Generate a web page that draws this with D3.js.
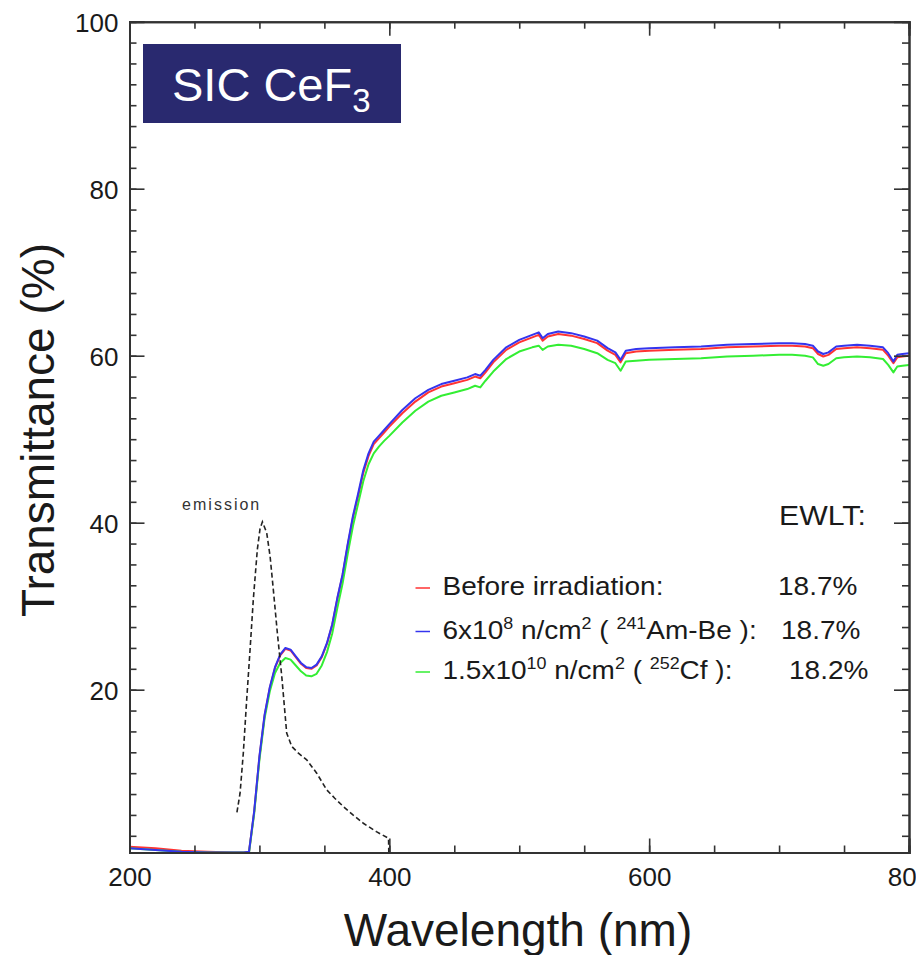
<!DOCTYPE html>
<html>
<head>
<meta charset="utf-8">
<script src="https://cdn.jsdelivr.net/npm/d3@7"></script>
<style>
    body { margin: 0; background: #fff; }
    text { font-family: "Liberation Sans", Arial, sans-serif; fill: #1a1a1a; }
    .axis path { stroke: #333; stroke-width: 2; }
    .axis line { stroke: #333; stroke-width: 1.6; }
    .curve { fill: none; stroke-width: 2; stroke-linejoin: round; }
</style>
</head>
<body>
<div id="chart"></div>
<script>

// wavelength grid (nm) shared by the three transmittance curves
const wavelengths = [200, 220, 240, 260, 280, 288, 292, 296, 300, 304, 308, 312, 316, 320, 324, 328, 332, 336, 340, 344,
    348, 352, 356, 360, 364, 368, 372, 376, 380, 384, 388, 392, 396, 400, 410, 420, 430, 440, 450, 460,
    466, 470, 474, 480, 490, 500, 510, 515, 518, 522, 530, 540, 550, 560, 568, 574, 578, 582, 590, 600,
    620, 640, 660, 680, 700, 710, 720, 726, 730, 734, 738, 744, 750, 760, 770, 780, 784, 788, 791, 795, 800];

// transmittance (%)
const beforeIrr = [1.2, 1.0, 0.7, 0.6, 0.5, 0.5, 0.6, 5.4, 11.9, 16.9, 20.2, 22.6, 24.1, 24.9, 24.7, 23.9, 23.1, 22.6, 22.5, 22.9,
    23.9, 25.5, 27.7, 30.9, 33.7, 37.3, 40.6, 43.2, 46.0, 48.0, 49.4, 50.1, 50.8, 51.5, 53.1, 54.5, 55.6, 56.3, 56.7, 57.1,
    57.5, 57.3, 58.0, 59.2, 60.7, 61.6, 62.2, 62.5, 61.8, 62.3, 62.6, 62.4, 62.0, 61.5, 60.6, 60.1, 59.2, 60.3, 60.5, 60.6,
    60.7, 60.8, 61.0, 61.1, 61.2, 61.2, 61.1, 60.9, 60.2, 59.9, 60.1, 60.8, 60.9, 61.0, 60.9, 60.7, 60.0, 59.1, 59.8, 59.9, 60.0];

const amBe = [1.0, 0.8, 0.6, 0.5, 0.5, 0.5, 0.6, 5.5, 12.0, 17.0, 20.3, 22.7, 24.2, 25.0, 24.8, 24.0, 23.2, 22.7, 22.6, 23.0,
    24.0, 25.6, 27.8, 31.0, 33.8, 37.5, 40.8, 43.5, 46.3, 48.3, 49.7, 50.4, 51.1, 51.8, 53.5, 54.9, 55.9, 56.6, 57.0, 57.4,
    57.8, 57.6, 58.3, 59.5, 61.0, 61.9, 62.5, 62.8, 62.1, 62.6, 62.9, 62.7, 62.3, 61.8, 60.9, 60.4, 59.5, 60.6, 60.8, 60.9,
    61.0, 61.1, 61.3, 61.4, 61.5, 61.5, 61.4, 61.2, 60.5, 60.2, 60.4, 61.1, 61.2, 61.3, 61.2, 61.0, 60.3, 59.3, 60.1, 60.2, 60.3];

const cf252 = [1.0, 0.8, 0.6, 0.5, 0.5, 0.5, 0.5, 5.2, 11.6, 16.6, 19.8, 22.0, 23.2, 23.8, 23.6, 22.9, 22.2, 21.7, 21.6, 21.9,
    22.9, 24.5, 26.7, 29.8, 32.7, 36.3, 39.6, 42.3, 45.0, 47.0, 48.3, 49.1, 49.8, 50.4, 52.0, 53.4, 54.5, 55.2, 55.6, 56.0,
    56.4, 56.2, 57.0, 58.1, 59.6, 60.5, 61.0, 61.2, 60.7, 61.1, 61.3, 61.2, 60.8, 60.3, 59.5, 59.1, 58.2, 59.3, 59.4, 59.5,
    59.6, 59.7, 59.9, 60.0, 60.1, 60.1, 60.0, 59.8, 59.0, 58.8, 59.0, 59.7, 59.8, 59.9, 59.8, 59.6, 58.9, 58.0, 58.7, 58.8, 58.9];

// CeF3 emission spectrum (arbitrary units, dashed)
const emissionWl = [282.7, 285.1, 287.6, 290.2, 292.8, 295.3, 298.4, 300.5, 302.3, 305.6, 308.2, 311, 313.8, 317.2, 321,
    324.9, 330, 336.4, 344.1, 351.8, 358, 364.6, 372, 380, 390, 399.4, 399.6];
const emissionVal = [5.3, 7.6, 12.4, 18.8, 24.8, 30.8, 36.8, 39.3, 40.1, 38.8, 36.0, 31.5, 26.8, 21.6, 14.8,
    13.2, 12.4, 11.6, 10.0, 8.0, 7.0, 6.0, 5.0, 4.0, 3.0, 2.2, 0.5];

const xTicks = [200, 400, 600, 800];
const yTicks = [20, 40, 60, 80, 100];

const seriesNames = ["Before irradiation", "241Am-Be", "252Cf"];
const seriesColors = ["#ff3333", "#3434ee", "#33ee33"];
const ewltValues = ["18.7%", "18.7%", "18.2%"];

// legend labels as pieces: [text, isSuperscript]
const legendLabels = [
    [["Before irradiation:", false]],
    [["6x10", false], ["8", true], [" n/cm", false], ["2", true], [" ( ", false], ["241", true], ["Am-Be ):", false]],
    [["1.5x10", false], ["10", true], [" n/cm", false], ["2", true], [" ( ", false], ["252", true], ["Cf ):", false]]
];


let margin = {top: 21.7, right: 7, bottom: 102.5, left: 129.5};
let width = 916 - margin.left - margin.right;
let height = 955 - margin.top - margin.bottom;

let svg = d3.select("#chart").append("svg")
    .attr("width", 916)
    .attr("height", 955)
    .style("overflow", "visible")
    .append("g")
    .attr("transform", "translate(" + margin.left + "," + margin.top + ")");

// Scales
let x = d3.scaleLinear().domain([200, 800]).range([0, width]);
let y = d3.scaleLinear().domain([0.5, 100]).range([height, 0]);

svg.append("defs").append("clipPath")
    .attr("id", "clip")
    .append("rect")
    .attr("width", width)
    .attr("height", height);

// Curves
let line = d3.line()
    .x(d => x(d[0]))
    .y(d => y(d[1]));

let curveData = [beforeIrr, amBe, cf252].map(vals => wavelengths.map((w, i) => [w, vals[i]]));
let drawOrder = [0, 2, 1];

drawOrder.forEach(function (k) {
    svg.append("path")
        .datum(curveData[k])
        .attr("class", "curve")
        .attr("clip-path", "url(#clip)")
        .attr("stroke", seriesColors[k])
        .attr("d", line);
});

// emission
svg.append("path")
    .datum(emissionWl.map((w, i) => [w, emissionVal[i]]))
    .attr("fill", "none")
    .attr("stroke", "#222")
    .attr("stroke-width", 1.6)
    .attr("stroke-dasharray", "5,3")
    .attr("d", line);

svg.append("text")
    .attr("x", x(240.5))
    .attr("y", y(41.5))
    .style("font-size", "16px")
    .style("letter-spacing", "2px")
    .style("fill", "#333")
    .text("emission");

// Axes: minor ticks without labels, major ticks with labels (ticks point inward)
let xMinor = d3.range(200, 800.1, 50);
let yMinor = d3.range(2.5, 100.1, 2.5);

function addAxis(axis, cls, transform) {
    let g = svg.append("g")
        .attr("class", "axis " + cls)
        .attr("transform", transform)
        .call(axis);
    return g;
}

addAxis(d3.axisBottom(x).tickValues(xMinor).tickSize(-7).tickFormat(""), "x-minor", "translate(0," + height + ")");
addAxis(d3.axisTop(x).tickValues(xMinor).tickSize(-7).tickFormat(""), "x-minor-top", "translate(0,0)");
addAxis(d3.axisLeft(y).tickValues(yMinor).tickSize(-7).tickFormat(""), "y-minor", "translate(0,0)");
addAxis(d3.axisRight(y).tickValues(yMinor).tickSize(-7).tickFormat(""), "y-minor-right", "translate(" + width + ",0)");

let xMajor = addAxis(d3.axisBottom(x).tickValues(xTicks).tickSize(-14).tickPadding(0).tickFormat(d3.format("d")),
    "x-major", "translate(0," + height + ")");
addAxis(d3.axisTop(x).tickValues(xTicks).tickSize(-14).tickFormat(""), "x-major-top", "translate(0,0)");
let yMajor = addAxis(d3.axisLeft(y).tickValues(yTicks).tickSize(-15).tickFormat(d3.format("d")),
    "y-major", "translate(0,0)");
addAxis(d3.axisRight(y).tickValues(yTicks).tickSize(-15).tickFormat(""), "y-major-right", "translate(" + width + ",0)");

xMajor.selectAll("text")
    .attr("y", 33)
    .attr("dy", null)
    .style("font-size", "26px")
    .style("font-family", "'Liberation Sans', Arial, sans-serif")
    .style("fill", "#1a1a1a");

yMajor.selectAll("text")
    .attr("x", -11)
    .attr("dy", "0.36em")
    .style("font-size", "26px")
    .style("font-family", "'Liberation Sans', Arial, sans-serif")
    .style("fill", "#1a1a1a");

// Axis titles
svg.append("text")
    .attr("x", 518 - margin.left)
    .attr("y", 946 - margin.top)
    .style("text-anchor", "middle")
    .style("font-size", "46px")
    .text("Wavelength (nm)");

svg.append("text")
    .attr("transform", "translate(" + (54 - margin.left) + "," + (430 - margin.top) + ") rotate(-90)")
    .style("text-anchor", "middle")
    .style("font-size", "46px")
    .text("Transmittance (%)");

// Title box
svg.append("rect")
    .attr("x", 143 - margin.left)
    .attr("y", 44 - margin.top)
    .attr("width", 258)
    .attr("height", 79)
    .attr("fill", "#29296f");

let title = svg.append("text")
    .attr("x", 172 - margin.left)
    .attr("y", 101 - margin.top)
    .style("font-size", "47px")
    .style("fill", "#fff");
title.append("tspan").style("fill", "#fff").text("SIC CeF");
title.append("tspan").style("fill", "#fff").style("font-size", "33px").attr("dy", 11).text("3");

// Legend (text in the original is a bit wider than Liberation Sans, so stretch it horizontally)
let legend = svg.append("g")
    .attr("transform", "translate(" + (-margin.left) + "," + (-margin.top) + ")");

let stretch = 1.12;

function legendText(px, py, size) {
    return legend.append("text")
        .attr("transform", "translate(" + px + "," + py + ") scale(" + stretch + ",1)")
        .style("font-size", size + "px");
}

legendText(779, 525, 27).text("EWLT:");

let rowBase = [595, 638.5, 679];
let valueX = [778, 781, 789];

legendLabels.forEach(function (parts, i) {
    legend.append("line")
        .attr("x1", 415.5)
        .attr("x2", 430)
        .attr("y1", rowBase[i] - 7)
        .attr("y2", rowBase[i] - 7)
        .attr("stroke", seriesColors[i])
        .attr("stroke-width", 1.5);

    let t = legendText(442.5, rowBase[i], 25);

    let raised = false;
    parts.forEach(function (p) {
        let span = t.append("tspan").text(p[0]);
        if (p[1] && !raised) {
            span.attr("dy", -10).style("font-size", "16px");
            raised = true;
        } else if (p[1]) {
            span.style("font-size", "16px");
        } else if (raised) {
            span.attr("dy", 10);
            raised = false;
        }
    });

    legendText(valueX[i], rowBase[i], 25).text(ewltValues[i]);
});

</script>
</body>
</html>
